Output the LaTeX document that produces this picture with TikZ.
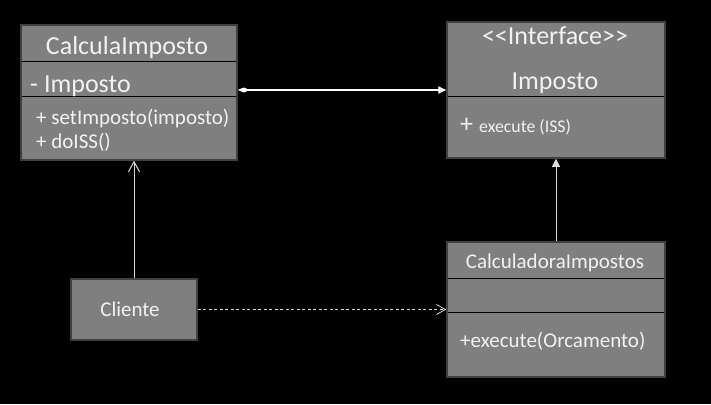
\documentclass[tikz,border=0pt]{standalone}
\usepackage{fontspec}
\setmainfont{Carlito}
\usetikzlibrary{arrows.meta}
\definecolor{boxgray}{HTML}{7F7F7F}
\definecolor{boxedge}{HTML}{404040}
\definecolor{txt}{HTML}{F2F2F2}
\definecolor{wire}{HTML}{D9D9D9}

\begin{document}
\begin{tikzpicture}[x=1pt,y=-1pt,
  classbox/.style={draw=boxedge,fill=boxgray,line width=1.5pt,inner sep=0pt},
  big/.style={text=txt,inner sep=0pt,font=\fontsize{26}{30}\selectfont},
  small/.style={text=txt,inner sep=0pt,font=\fontsize{21}{25}\selectfont},
  tiny/.style={text=txt,inner sep=0pt,font=\fontsize{17.8}{21}\selectfont},
  divider/.style={black,line width=1pt},
  assoc/.style={white,line width=1.8pt,{Diamond[width=5pt,length=12pt]}-{Triangle[width=7pt,length=8pt]}},
  realize/.style={wire,line width=1pt,-{Triangle[width=8pt,length=8pt]}},
  uses/.style={wire,line width=1pt,-{Straight Barb[width=11pt,length=10pt]}},
  depends/.style={wire,line width=0.8pt,dash pattern=on 3pt off 2.5pt,-{Straight Barb[width=10pt,length=9pt]}}]
\fill[black] (0,0) rectangle (711,404);
\useasboundingbox (0,0) rectangle (711,404);
\node[classbox,minimum width=216pt,minimum height=135pt] (calc) at (129,92.5) {};
\node[classbox,minimum width=218pt,minimum height=136pt] (iface) at (556,90) {};
\node[classbox,minimum width=218pt,minimum height=135pt] (impl) at (556,309.5) {};
\node[classbox,minimum width=126pt,minimum height=61pt] (cliente) at (134,309.5) {};
\foreach \y in {61.5,96.5} \draw[divider] (22,\y) -- (236,\y);
\draw[divider] (448,96) -- (664,96);
\foreach \y in {278,312} \draw[divider] (448,\y) -- (664,\y);
\node[big,anchor=base] (calcname) at (127,55) {CalculaImposto};
\node[big,anchor=base west] (calcattr) at (30,92) {- Imposto};
\node[small,anchor=base west] (calcset) at (36,124) {+ setImposto(imposto)};
\node[small,anchor=base west] (calcdo) at (36,148) {+ doISS()};
\node[big,anchor=base] (ifacetag) at (555,45) {<{}<Interface>{}>};
\node[big,anchor=base] (ifacename) at (555,89) {Imposto};
\node[big,anchor=base west] (ifaceplus) at (460,132) {+};
\node[tiny,anchor=base west] (ifaceop) at (479,132) {execute (ISS)};
\node[small,anchor=base] (implname) at (555,268) {CalculadoraImpostos};
\node[small,anchor=base west] (implop) at (460,347) {+execute(Orcamento)};
\node[small,anchor=base] (clientename) at (130,316) {Cliente};
\draw[assoc] (calc.east |- iface.west) -- (iface.west);
\draw[realize] (impl.north) -- (iface.south);
\draw[uses] (cliente.north) -- (cliente.north |- calc.south);
\draw[depends] (cliente.east) -- (impl.west);
\end{tikzpicture}
\end{document}
